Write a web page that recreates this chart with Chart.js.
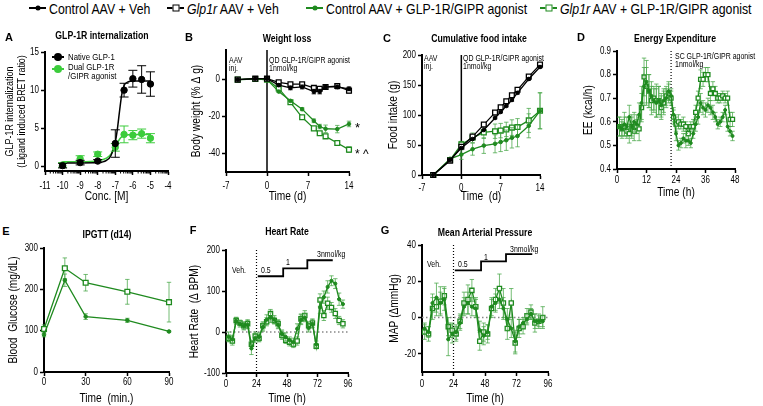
<!DOCTYPE html>
<html>
<head>
<meta charset="utf-8">
<script src="https://cdn.jsdelivr.net/npm/chart.js@4.4.1/dist/chart.umd.min.js"></script>
<style>
  body { margin: 0; width: 763px; height: 406px; position: relative; overflow: hidden; background: #fff;
         font-family: "Liberation Sans", Arial, sans-serif; }
  canvas { position: absolute; }
  .lbl { position: absolute; white-space: nowrap; line-height: 1; color: #000; }
  .key { position: absolute; width: 17px; height: 10px; transform: translateY(-50%); }
  .key .ln { position: absolute; left: 0; right: 0; top: 4px; height: 2px; }
  .key .mk { position: absolute; left: 50%; top: 50%; transform: translate(-50%, -50%); box-sizing: border-box; }
</style>
</head>
<body>
<script>
const FONT = '"Liberation Sans", Arial, sans-serif';
const SQ = 0.8;         // horizontal squeeze, the figure uses a condensed face
const BLACK = '#000';
const GREEN = '#1f8a1f';
const GREEN_ERR = 'rgba(70,165,70,0.75)';
const LIME = '#3ccc3c';

// ---- A: GLP-1R internalization (log M) ----
const aConc = [-10, -9, -8, -7, -6.5, -6, -5.5, -5];
const aNative = [0.1, 0.5, 0.7, 3.0, 10.0, 11.5, 11.4, 10.8];
const aNativeErr = [0.3, 0.3, 0.2, 1.8, 0.9, 1.1, 1.8, 1.6];
const aDual = [0.2, 1.0, 1.6, 2.5, 4.2, 4.1, 4.3, 3.7];
const aDualErr = [0.3, 0.4, 0.3, 0.5, 1.1, 0.6, 0.6, 0.6];
const aFitConc = [-10, -9, -8, -7.5, -7.25, -7, -6.875, -6.75, -6.625, -6.5, -6.25, -6, -5.5, -5];
const aNativeFit = [0.45, 0.45, 0.5, 0.8, 1.4, 3.2, 5.0, 7.4, 9.5, 10.6, 11.1, 11.2, 11.2, 11.2];
const aDualFit = [0.6, 0.6, 0.75, 1.1, 1.6, 2.6, 3.1, 3.6, 3.9, 4.05, 4.15, 4.2, 4.2, 4.2];
const aXTicks = [-11, -10, -9, -8, -7, -6, -5, -4];
const aYTicks = [0, 5, 10, 15];

// ---- B: Weight loss ----
const bDays = [-5, -2, 0, 2, 4, 6, 8, 9, 10, 12, 14];
const bCtrlVeh = [0, 0.5, 0.5, -3, -4.5, -4, -6.5, -6.5, -4, -4, -5];
const bCtrlVehErr = [0.3, 0.3, 0.3, 0.8, 1, 1, 1.2, 1.2, 1, 1, 1];
const bGlpVeh = [0, 0.5, 0.5, -1.5, -2.5, -2.5, -4.5, -5, -4, -3.5, -6];
const bGlpVehErr = [0.3, 0.3, 0.3, 0.6, 0.8, 0.8, 1, 1, 1, 1, 1.2];
const bCtrlAg = [0, 0.3, 0, -6.5, -11.5, -16, -22.3, -25.4, -26.6, -26.8, -24];
const bCtrlAgErr = [0.3, 0.3, 0.3, 0.5, 0.6, 0.8, 1, 1.2, 2, 2, 1.5];
const bGlpAg = [0, 0.3, 0, -4.8, -12.3, -20.4, -26.4, -29, -30.7, -34.3, -37.9];
const bGlpAgErr = [0.3, 0.3, 0.3, 0.5, 0.6, 0.8, 1, 1, 1, 1, 1.5];
const bXTicks = [-7, 0, 7, 14];
const bYTicks = [-40, -20, 0];

// ---- C: Cumulative food intake ----
const cDays = [-5, -2, 0, 2, 4, 6, 7, 8, 9, 10, 12, 14];
const cCtrlVeh = [0, 25, 45, 60, 75, 95, 105, 115, 125, 137, 160, 180];
const cCtrlVehErr = [0, 1, 1, 1, 1, 1.5, 1.5, 1.5, 2, 2, 2, 2];
const cGlpVeh = [0, 24, 47, 64, 84, 104, 113, 123, 133, 142, 164, 184];
const cGlpVehErr = [0, 1, 1, 1, 1, 1.5, 1.5, 1.5, 2, 2, 2, 2];
const cCtrlAg = [0, 27, 34, 43, 49, 52, 55, 58, 62, 65, 82, 107];
const cCtrlAgErr = [0, 2, 8, 10, 13, 15, 16, 17, 17, 18, 20, 30];
const cGlpAg = [0, 25, 51, 62, 71, 73, 74, 76, 79, 80, 91, 107];
const cGlpAgErr = [0, 2, 5, 8, 10, 12, 12, 12, 13, 14, 20, 30];
const cXTicks = [-7, 0, 7, 14];
const cYTicks = [0, 50, 100, 150, 200];

// ---- D: Energy expenditure ----
const dHours = [1, 2, 3, 4, 5, 6, 7, 8, 9, 10, 11, 12, 13, 14, 15, 16, 17, 18, 19, 20,
  21, 22, 23, 24, 25, 26, 27, 28, 29, 30, 31, 32, 33, 34, 35, 36, 37, 38, 39, 40,
  41, 42, 43, 44, 45, 46, 47];
const dGlpAg = [0.58, 0.57, 0.58, 0.56, 0.55, 0.58, 0.56, 0.58, 0.57, 0.66,
  0.79, 0.75, 0.73, 0.69, 0.70, 0.69, 0.69, 0.66, 0.68, 0.71,
  0.72, 0.70, 0.62, 0.59, 0.60, 0.59, 0.59, 0.58, 0.55, 0.58,
  0.58, 0.64, 0.70, 0.78, 0.78, 0.80, 0.80, 0.72, 0.74, 0.72,
  0.70, 0.70, 0.71, 0.70, 0.70, 0.61, 0.61];
const dGlpAgErr = [0.04, 0.03, 0.04, 0.03, 0.04, 0.05, 0.04, 0.03, 0.05, 0.06,
  0.08, 0.08, 0.07, 0.06, 0.05, 0.07, 0.06, 0.05, 0.05, 0.04,
  0.04, 0.03, 0.03, 0.03, 0.03, 0.02, 0.03, 0.02, 0.03, 0.02,
  0.03, 0.03, 0.03, 0.04, 0.03, 0.03, 0.03, 0.03, 0.03, 0.03,
  0.02, 0.02, 0.02, 0.02, 0.03, 0.03, 0.03];
const dCtrlAg = [0.58, 0.57, 0.59, 0.58, 0.62, 0.58, 0.60, 0.59, 0.63, 0.68,
  0.75, 0.77, 0.73, 0.71, 0.69, 0.68, 0.69, 0.67, 0.69, 0.70,
  0.73, 0.71, 0.63, 0.55, 0.50, 0.51, 0.53, 0.52, 0.52, 0.51,
  0.55, 0.59, 0.62, 0.68, 0.66, 0.65, 0.67, 0.66, 0.64, 0.62,
  0.59, 0.60, 0.62, 0.65, 0.58, 0.56, 0.54];
const dCtrlAgErr = [0.04, 0.04, 0.05, 0.04, 0.05, 0.04, 0.04, 0.04, 0.05, 0.07,
  0.08, 0.09, 0.07, 0.06, 0.05, 0.06, 0.06, 0.05, 0.05, 0.04,
  0.04, 0.03, 0.03, 0.03, 0.02, 0.02, 0.02, 0.03, 0.02, 0.02,
  0.02, 0.03, 0.03, 0.04, 0.03, 0.03, 0.03, 0.03, 0.03, 0.02,
  0.02, 0.02, 0.02, 0.02, 0.02, 0.02, 0.02];
const dXTicks = [0, 12, 24, 36, 48];
const dYTicks = [0.4, 0.5, 0.6, 0.7, 0.8, 0.9];

// ---- E: IPGTT (d14) ----
const eMin = [0, 15, 30, 60, 90];
const eCtrlAg = [90, 222, 134, 125, 98];
const eCtrlAgErr = [5, 15, 7, 5, 2];
const eGlpAg = [104, 251, 216, 194, 169];
const eGlpAgErr = [10, 25, 20, 30, 48];
const eXTicks = [0, 30, 60, 90];
const eYTicks = [0, 100, 200, 300];

// ---- F / G: telemetry, 3 h bins ----
const tHours = [2, 5, 8, 11, 14, 17, 20, 23, 26, 29, 32, 35, 38, 41, 44, 47,
  50, 53, 56, 59, 62, 65, 68, 71, 74, 77, 80, 83, 86, 89, 92];
const fGlpAg = [-15, -22, 28, 22, 15, 20, -30, -10, -15, 15, 25, 45, 28, 20, -8, -20,
  -25, -30, -22, 32, 40, 15, 22, -35, 78, 40, 70, 60, 45, 28, 20];
const fGlpAgErr = [8, 10, 8, 7, 8, 10, 10, 10, 9, 10, 10, 10, 8, 10, 10, 8,
  9, 8, 10, 12, 12, 10, 10, 6, 15, 12, 15, 12, 12, 10, 10];
const fCtrlAg = [-12, -18, 27, 20, 15, 18, -40, -15, -12, 12, 30, 35, 30, 18, -5, -12,
  -20, -25, 8, 30, 35, 10, 20, -30, 60, 85, 110, 125, 118, 80, 68];
const fCtrlAgErr = [12, 10, 8, 8, 10, 10, 15, 10, 10, 10, 12, 12, 10, 10, 10, 10,
  8, 10, 12, 12, 10, 10, 10, 8, 15, 15, 15, 12, 12, 15, 10];
const fDoseHours = [25, 45, 64, 84];
const fDoseLevel = [136, 155, 175, 175];
const fXTicks = [0, 24, 48, 72, 96];
const fYTicks = [-100, 0, 100, 200];

const gGlpAg = [-8, -9, 5, 6, 9, 12, -5, -7, -9, -2, 8, 10, 15, 6, -13, -8,
  -9, 5, 10, 16, 8, -6, 8, -14, -6, -5, 1, 3, -3, -2, 0];
const gGlpAgErr = [4, 4, 6, 5, 8, 5, 5, 4, 4, 4, 6, 8, 6, 5, 5, 5,
  5, 5, 6, 8, 8, 6, 8, 6, 5, 4, 4, 4, 5, 4, 6];
const gCtrlAg = [-6, -8, 8, 11, 8, 10, -12, -9, -8, -3, 6, 8, 6, 5, -7, -10,
  -8, 6, 8, 10, 5, -1, -6, -13, -5, -3, -1, 2, -2, -2, -2];
const gCtrlAgErr = [3, 3, 5, 8, 6, 6, 9, 5, 4, 4, 5, 6, 5, 5, 5, 5,
  4, 5, 5, 5, 6, 6, 5, 6, 4, 3, 3, 3, 4, 3, 3];
const gDoseLevel = [26, 31, 35, 35];
const gXTicks = [0, 24, 48, 72, 96];
const gYTicks = [-20, 0, 20, 40];

// error bars drawn under each dataset's markers
const errorBars = {
  id: 'errorBars',
  beforeDatasetDraw(chart, args) {
    const ds = chart.data.datasets[args.index];
    if (!ds.errors) return;
    const ys = chart.scales.y, ctx = chart.ctx;
    const cap = ds.capWidth || 2.2;
    ctx.save();
    ctx.strokeStyle = ds.errorColor || ds.borderColor;
    ctx.lineWidth = 1;
    args.meta.data.forEach((pt, i) => {
      const e = ds.errors[i];
      if (!e) return;
      const v = ds.data[i].y;
      const y1 = ys.getPixelForValue(v - e), y2 = ys.getPixelForValue(v + e);
      ctx.beginPath();
      ctx.moveTo(pt.x, y1); ctx.lineTo(pt.x, y2);
      ctx.moveTo(pt.x - cap, y1); ctx.lineTo(pt.x + cap, y1);
      ctx.moveTo(pt.x - cap, y2); ctx.lineTo(pt.x + cap, y2);
      ctx.stroke();
    });
    ctx.restore();
  }
};

// reference lines (dose start, zero)
const refLines = {
  id: 'refLines',
  beforeDatasetsDraw(chart, args, opts) {
    const { ctx, chartArea: a, scales } = chart;
    (opts.lines || []).forEach(l => {
      ctx.save();
      ctx.strokeStyle = l.color || '#000';
      ctx.lineWidth = l.width || 1;
      ctx.setLineDash(l.dash || []);
      ctx.beginPath();
      if (l.axis === 'x') {
        const p = scales.x.getPixelForValue(l.value);
        ctx.moveTo(p, a.top); ctx.lineTo(p, a.bottom);
      } else {
        const p = scales.y.getPixelForValue(l.value);
        ctx.moveTo(a.left, p); ctx.lineTo(a.right, p);
      }
      ctx.stroke();
      ctx.restore();
    });
  }
};

// minor log ticks for panel A
const minorTicks = {
  id: 'minorTicks',
  afterDraw(chart, args, opts) {
    if (!opts.decades) return;
    const { ctx, scales, chartArea: a } = chart;
    ctx.save();
    ctx.strokeStyle = '#000';
    ctx.lineWidth = 1;
    opts.decades.forEach(d => {
      for (let k = 2; k <= 9; k++) {
        const p = scales.x.getPixelForValue(d + Math.log10(k));
        ctx.beginPath();
        ctx.moveTo(p, a.bottom); ctx.lineTo(p, a.bottom + 2.5);
        ctx.stroke();
      }
    });
    ctx.restore();
  }
};

function squeezed(ctx, text, x, y, align, sq) {
  ctx.save();
  ctx.translate(x, y);
  ctx.scale(sq || SQ, 1);
  ctx.textAlign = align;
  ctx.fillText(text, 0, 0);
  ctx.restore();
}

// tick labels and axis titles in a condensed look
const axisText = {
  id: 'axisText',
  afterDraw(chart, args, o) {
    const { ctx, chartArea: a, scales } = chart;
    const fmt = o.fmt || (v => String(v));
    ctx.save();
    ctx.fillStyle = '#000';
    ctx.textBaseline = 'middle';
    ctx.font = '10px ' + FONT;
    scales.x.ticks.forEach(t => squeezed(ctx, String(t.value), scales.x.getPixelForValue(t.value), a.bottom + o.xGap, 'center'));
    scales.y.ticks.forEach(t => squeezed(ctx, fmt(t.value), a.left - 6, scales.y.getPixelForValue(t.value), 'right'));
    ctx.font = '12px ' + FONT;
    squeezed(ctx, o.xTitle, (a.left + a.right) / 2, a.bottom + o.xTitleGap, 'center', 0.85);
    const lines = [].concat(o.yTitle);
    const size = o.yTitleSize || 12;
    ctx.font = size + 'px ' + FONT;
    lines.forEach((ln, i) => {
      ctx.save();
      ctx.translate(a.left - o.yTitleGap + i * size * 1.15, (a.top + a.bottom) / 2);
      ctx.rotate(-Math.PI / 2);
      ctx.scale(0.85, 1);
      ctx.textAlign = 'center';
      ctx.fillText(ln, 0, 0);
      ctx.restore();
    });
    ctx.restore();
  }
};

function axis(cfg, size, dir) {
  return {
    type: 'linear', min: cfg.min, max: cfg.max,
    afterBuildTicks: s => { s.ticks = cfg.ticks.map(v => ({ value: v })); },
    afterFit: s => { if (dir === 'x') s.height = size; else s.width = size; },
    grid: { drawOnChartArea: false, drawTicks: true, tickLength: 4, tickColor: '#000', tickWidth: 1.5 },
    border: { color: '#000', width: 2 },
    ticks: { display: false, autoSkip: false },
    title: { display: false }
  };
}

const PAD = { l: 48, r: 14, t: 10, b: 36 };

function panel(area, xCfg, yCfg, text, datasets, pluginOpts) {
  const c = document.createElement('canvas');
  c.width = area.r - area.l + PAD.l + PAD.r;
  c.height = area.b - area.t + PAD.t + PAD.b;
  c.style.left = (area.l - PAD.l) + 'px';
  c.style.top = (area.t - PAD.t) + 'px';
  document.body.appendChild(c);
  return new Chart(c, {
    type: 'line',
    data: { datasets },
    options: {
      responsive: false, animation: false, events: [],
      layout: { padding: { left: 0, top: PAD.t, right: PAD.r, bottom: 0 } },
      plugins: Object.assign({ legend: { display: false }, tooltip: { enabled: false }, axisText: text }, pluginOpts || {}),
      scales: { x: axis(xCfg, PAD.b, 'x'), y: axis(yCfg, PAD.l, 'y') }
    },
    plugins: [errorBars, refLines, minorTicks, axisText]
  });
}

function pts(xs, ys) { return xs.map((x, i) => ({ x, y: ys[i] })); }

function series(xs, ys, errs, kind, color, errColor, r) {
  const open = kind === 'open';
  return {
    data: pts(xs, ys), errors: errs, errorColor: errColor || color,
    borderColor: color, borderWidth: 1.3, backgroundColor: open ? '#fff' : color,
    pointStyle: open ? 'rect' : 'circle', pointRadius: r, pointBorderWidth: open ? 1.3 : 1,
    pointBackgroundColor: open ? '#fff' : color, pointBorderColor: color,
    tension: 0, clip: false
  };
}

function curve(xs, ys, color) {
  return { data: pts(xs, ys), borderColor: color, borderWidth: 1.5, pointRadius: 0,
    cubicInterpolationMode: 'monotone', clip: false };
}

function steps(xs, ys) {
  return { data: pts(xs, ys), borderColor: '#000', borderWidth: 1.8, pointRadius: 0, stepped: true, clip: false };
}

// A
panel({ l: 45, r: 168, t: 52, b: 171 },
  { min: -11, max: -4, ticks: aXTicks },
  { min: -0.6, max: 15, ticks: aYTicks },
  { xGap: 15, xTitleGap: 26, xTitle: 'Conc. [M]', yTitleGap: 35, yTitleSize: 10.5,
    yTitle: ['GLP-1R internalization', '(Ligand induced BRET ratio)'] },
  [
    Object.assign(series(aConc, aNative, aNativeErr, 'dot', BLACK, BLACK, 3.2), { showLine: false, capWidth: 4.5 }),
    Object.assign(series(aConc, aDual, aDualErr, 'dot', LIME, LIME, 3.2), { showLine: false, capWidth: 4.5 }),
    curve(aFitConc, aNativeFit, BLACK),
    curve(aFitConc, aDualFit, LIME)
  ],
  { minorTicks: { decades: [-11, -10, -9, -8, -7, -6, -5] } });

// B
panel({ l: 226, r: 349, t: 50, b: 172 },
  { min: -7, max: 14, ticks: bXTicks },
  { min: -50, max: 16, ticks: bYTicks },
  { xGap: 14.7, xTitleGap: 25, xTitle: 'Time (d)', yTitleGap: 29.3, yTitle: 'Body weight (% \u0394 g)' },
  [
    series(bDays, bCtrlVeh, bCtrlVehErr, 'dot', BLACK, BLACK, 1.8),
    series(bDays, bGlpVeh, bGlpVehErr, 'open', BLACK, BLACK, 3.4),
    series(bDays, bCtrlAg, bCtrlAgErr, 'dot', GREEN, GREEN_ERR, 1.8),
    series(bDays, bGlpAg, bGlpAgErr, 'open', GREEN, GREEN_ERR, 3.4)
  ],
  { refLines: { lines: [{ axis: 'x', value: 0, width: 1.5 }] } });

// C
panel({ l: 422, r: 540, t: 55, b: 175 },
  { min: -7, max: 14, ticks: cXTicks },
  { min: 0, max: 200, ticks: cYTicks },
  { xGap: 13, xTitleGap: 22, xTitle: 'Time  (d)', yTitleGap: 28.7, yTitle: 'Food intake (g)' },
  [
    series(cDays, cCtrlVeh, cCtrlVehErr, 'dot', BLACK, BLACK, 1.8),
    series(cDays, cGlpVeh, cGlpVehErr, 'open', BLACK, BLACK, 3.4),
    series(cDays, cCtrlAg, cCtrlAgErr, 'dot', GREEN, GREEN_ERR, 1.8),
    series(cDays, cGlpAg, cGlpAgErr, 'open', GREEN, GREEN_ERR, 3.4)
  ],
  { refLines: { lines: [{ axis: 'x', value: 0, width: 1.5 }] } });

// D
panel({ l: 617, r: 735, t: 51, b: 169 },
  { min: 0, max: 48, ticks: dXTicks },
  { min: 0.4, max: 0.9, ticks: dYTicks },
  { xGap: 11, xTitleGap: 24, xTitle: 'Time (h)', yTitleGap: 28, yTitle: 'EE (kcal/h)', fmt: v => v.toFixed(1) },
  [
    series(dHours, dCtrlAg, dCtrlAgErr, 'dot', GREEN, GREEN_ERR, 1.5),
    series(dHours, dGlpAg, dGlpAgErr, 'open', GREEN, GREEN_ERR, 2.8)
  ],
  { refLines: { lines: [{ axis: 'x', value: 22, width: 1.2, dash: [1, 2] }] } });

// E
panel({ l: 44, r: 169, t: 248, b: 372 },
  { min: 0, max: 90, ticks: eXTicks },
  { min: 0, max: 300, ticks: eYTicks },
  { xGap: 10.7, xTitleGap: 27, xTitle: 'Time  (min.)', yTitleGap: 30, yTitle: 'Blood  Glucose (mg/dL)' },
  [
    series(eMin, eCtrlAg, eCtrlAgErr, 'dot', GREEN, GREEN_ERR, 1.8),
    series(eMin, eGlpAg, eGlpAgErr, 'open', GREEN, GREEN_ERR, 3.4)
  ]);

// F
panel({ l: 226, r: 348, t: 250, b: 373 },
  { min: 0, max: 96, ticks: fXTicks },
  { min: -100, max: 200, ticks: fYTicks },
  { xGap: 11, xTitleGap: 26, xTitle: 'Time (h)', yTitleGap: 31, yTitle: 'Heart Rate  (\u0394 BPM)' },
  [
    series(tHours, fCtrlAg, fCtrlAgErr, 'dot', GREEN, GREEN_ERR, 1.6),
    series(tHours, fGlpAg, fGlpAgErr, 'open', GREEN, GREEN_ERR, 3),
    steps(fDoseHours, fDoseLevel)
  ],
  { refLines: { lines: [
    { axis: 'x', value: 24, width: 1.2, dash: [1, 2] },
    { axis: 'y', value: 0, width: 1.5, dash: [1.5, 2.5], color: '#888' }
  ] } });

// G
panel({ l: 422, r: 548, t: 245, b: 372 },
  { min: 0, max: 96, ticks: gXTicks },
  { min: -30, max: 40, ticks: gYTicks },
  { xGap: 12, xTitleGap: 27, xTitle: 'Time (h)', yTitleGap: 27, yTitle: 'MAP (\u0394mmHg)' },
  [
    series(tHours, gCtrlAg, gCtrlAgErr, 'dot', GREEN, GREEN_ERR, 1.6),
    series(tHours, gGlpAg, gGlpAgErr, 'open', GREEN, GREEN_ERR, 3),
    steps(fDoseHours, gDoseLevel)
  ],
  { refLines: { lines: [
    { axis: 'x', value: 24, width: 1.2, dash: [1, 2] },
    { axis: 'y', value: 0, width: 1.5, dash: [1.5, 2.5], color: '#888' }
  ] } });

// ---- text overlays ----
function label(text, x, y, o) {
  o = o || {};
  const sq = o.sq || 0.82;
  const d = document.createElement('div');
  d.className = 'lbl';
  d.innerHTML = text;
  d.style.left = x + 'px';
  d.style.top = y + 'px';
  d.style.fontSize = (o.size || 8.5) + 'px';
  if (o.bold) d.style.fontWeight = 'bold';
  if (o.center) {
    d.style.transform = 'translate(-50%,-50%) scaleX(' + sq + ')';
  } else {
    d.style.transformOrigin = '0 50%';
    d.style.transform = 'translateY(-50%) scaleX(' + sq + ')';
  }
  document.body.appendChild(d);
}

function key(x, y, color, kind, w) {
  const k = document.createElement('div');
  k.className = 'key';
  k.style.left = x + 'px';
  k.style.top = y + 'px';
  k.style.width = (w || 17) + 'px';
  const ln = document.createElement('div');
  ln.className = 'ln';
  ln.style.background = color;
  k.appendChild(ln);
  const m = document.createElement('div');
  m.className = 'mk';
  if (kind === 'open') {
    m.style.width = '7px'; m.style.height = '7px';
    m.style.border = '1.5px solid ' + color; m.style.background = '#fff';
  } else {
    const s = kind === 'big' ? 8 : 5;
    m.style.width = s + 'px'; m.style.height = s + 'px';
    m.style.borderRadius = '50%'; m.style.background = color;
  }
  k.appendChild(m);
  document.body.appendChild(k);
}

// figure legend
const legendNames = ['Control AAV + Veh', '<i>Glp1r</i> AAV + Veh',
  'Control AAV + GLP-1R/GIPR agonist', '<i>Glp1r</i> AAV + GLP-1R/GIPR agonist'];
const legendKeys = [[BLACK, 'dot'], [BLACK, 'open'], [GREEN, 'dot'], [GREEN, 'open']];
const legendX = [29, 167, 306, 540];
legendNames.forEach((n, i) => {
  key(legendX[i], 8, legendKeys[i][0], legendKeys[i][1]);
  label(n, legendX[i] + 20, 8, { size: 15 });
});

// panel letters and titles
[['A', 9, 37], ['B', 189, 37], ['C', 387, 37.5], ['D', 581, 37],
 ['E', 6, 231], ['F', 193, 230], ['G', 385, 230]].forEach(t =>
  label(t[0], t[1], t[2], { size: 11, bold: true, center: true, sq: 1 }));
[['GLP-1R internalization', 102, 36], ['Weight loss', 287, 39], ['Cumulative food intake', 479, 39],
 ['Energy Expenditure', 675, 39], ['IPGTT (d14)', 107, 235], ['Heart Rate', 287, 232],
 ['Mean Arterial Pressure', 485, 233]].forEach(t =>
  label(t[0], t[1], t[2], { size: 10, bold: true, center: true, sq: 0.87 }));

// panel A inner legend
key(52, 57, BLACK, 'big', 12);
key(52, 69, LIME, 'big', 12);
label('Native GLP-1', 68, 57, { size: 9.5 });
label('Dual GLP-1R', 68, 67, { size: 9.5 });
label('/GIPR agonist', 68, 76, { size: 9.5 });

// annotations
[['AAV', 229, 60], ['inj.', 229, 67.5], ['QD GLP-1R/GIPR agonist', 269, 60], ['1nmol/kg', 269, 67.5],
 ['AAV', 424, 58], ['inj.', 424, 66], ['QD GLP-1R/GIPR agonist', 463, 58], ['1nmol/kg', 463, 66],
 ['SC GLP-1R/GIPR agonist', 675, 56], ['1nmol/kg', 675, 64],
 ['Veh.', 232, 270], ['0.5', 261, 270], ['1', 286, 262], ['3nmol/kg', 317, 254],
 ['Veh.', 427, 264], ['0.5', 458, 264], ['1', 484, 257], ['3nmol/kg', 510, 249]
].forEach(t => label(t[0], t[1], t[2], { size: 8.5 }));
label('*', 355, 127, { size: 13, sq: 1 });
label('* ^', 355, 154, { size: 12, sq: 1 });
</script>
</body>
</html>
